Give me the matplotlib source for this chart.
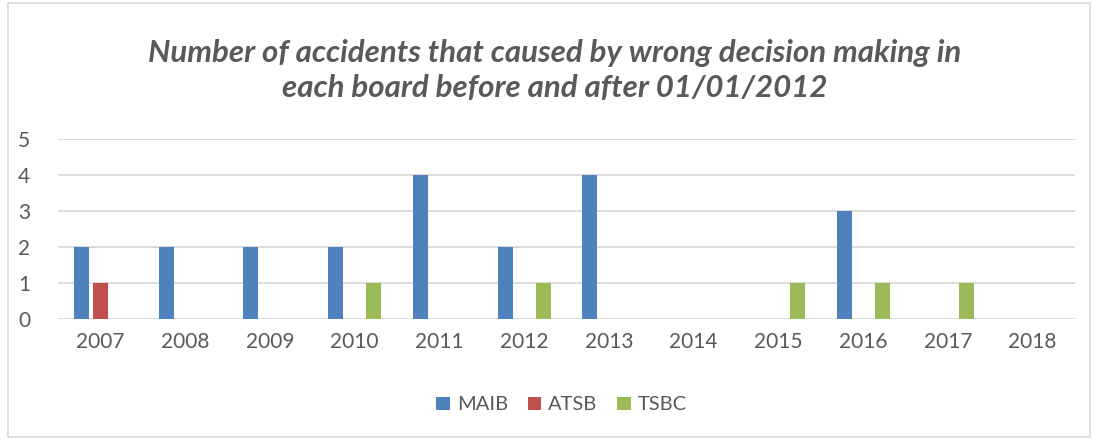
import numpy as np
import matplotlib.pyplot as plt
from matplotlib.patches import Rectangle

years = ['2007', '2008', '2009', '2010', '2011', '2012', '2013', '2014', '2015', '2016', '2017', '2018']
maib = [2, 2, 2, 2, 4, 2, 4, 0, 0, 3, 0, 0]
atsb = [1, 0, 0, 0, 0, 0, 0, 0, 0, 0, 0, 0]
tsbc = [0, 0, 0, 1, 0, 1, 0, 0, 1, 1, 1, 0]

grey = '#595959'
plt.rcParams['font.family'] = ['Lato', 'DejaVu Sans']

fig = plt.figure(figsize=(10.99, 4.41), dpi=100)
fig.patches.append(Rectangle((8 / 1099, 4 / 441), 1082 / 1099, 434 / 441, transform=fig.transFigure,
                             fill=False, edgecolor='#d9d9d9', linewidth=1.2))
ax = fig.add_axes([58 / 1099, 1 - 319 / 441, (1075 - 58) / 1099, 180 / 441])

x = np.arange(len(years))
w = 0.177
step = 0.224
ax.bar(x - step, maib, w, color='#4f81bd', label='MAIB', zorder=3)
ax.bar(x, atsb, w, color='#c0504d', label='ATSB', zorder=3)
ax.bar(x + step, tsbc, w, color='#9bbb59', label='TSBC', zorder=3)

ax.set_xlim(-0.5, len(years) - 0.5)
ax.set_ylim(0, 5)
ax.set_yticks(range(6))
ax.set_xticks(x)
ax.set_xticklabels(years)
ax.grid(axis='y', color='#d9d9d9', linewidth=1.3, zorder=0)
for s in ax.spines.values():
    s.set_visible(False)
ax.tick_params(length=0, labelsize=15, colors=grey, pad=9)
ax.tick_params(axis='y', pad=20)

fig.text(0.505, 0.84, 'Number of accidents that caused by wrong decision making in\neach board before and after 01/01/2012',
         ha='center', va='center', fontsize=22.5, fontweight='bold', fontstyle='italic', color=grey,
         linespacing=1.3)

fig.legend(loc='center', bbox_to_anchor=(0.511, 0.082), ncol=3, frameon=False, fontsize=14.5,
           labelcolor=grey, handlelength=0.65, handleheight=0.65, handletextpad=0.35, columnspacing=1.0)

fig.savefig('out.png', dpi=100)
